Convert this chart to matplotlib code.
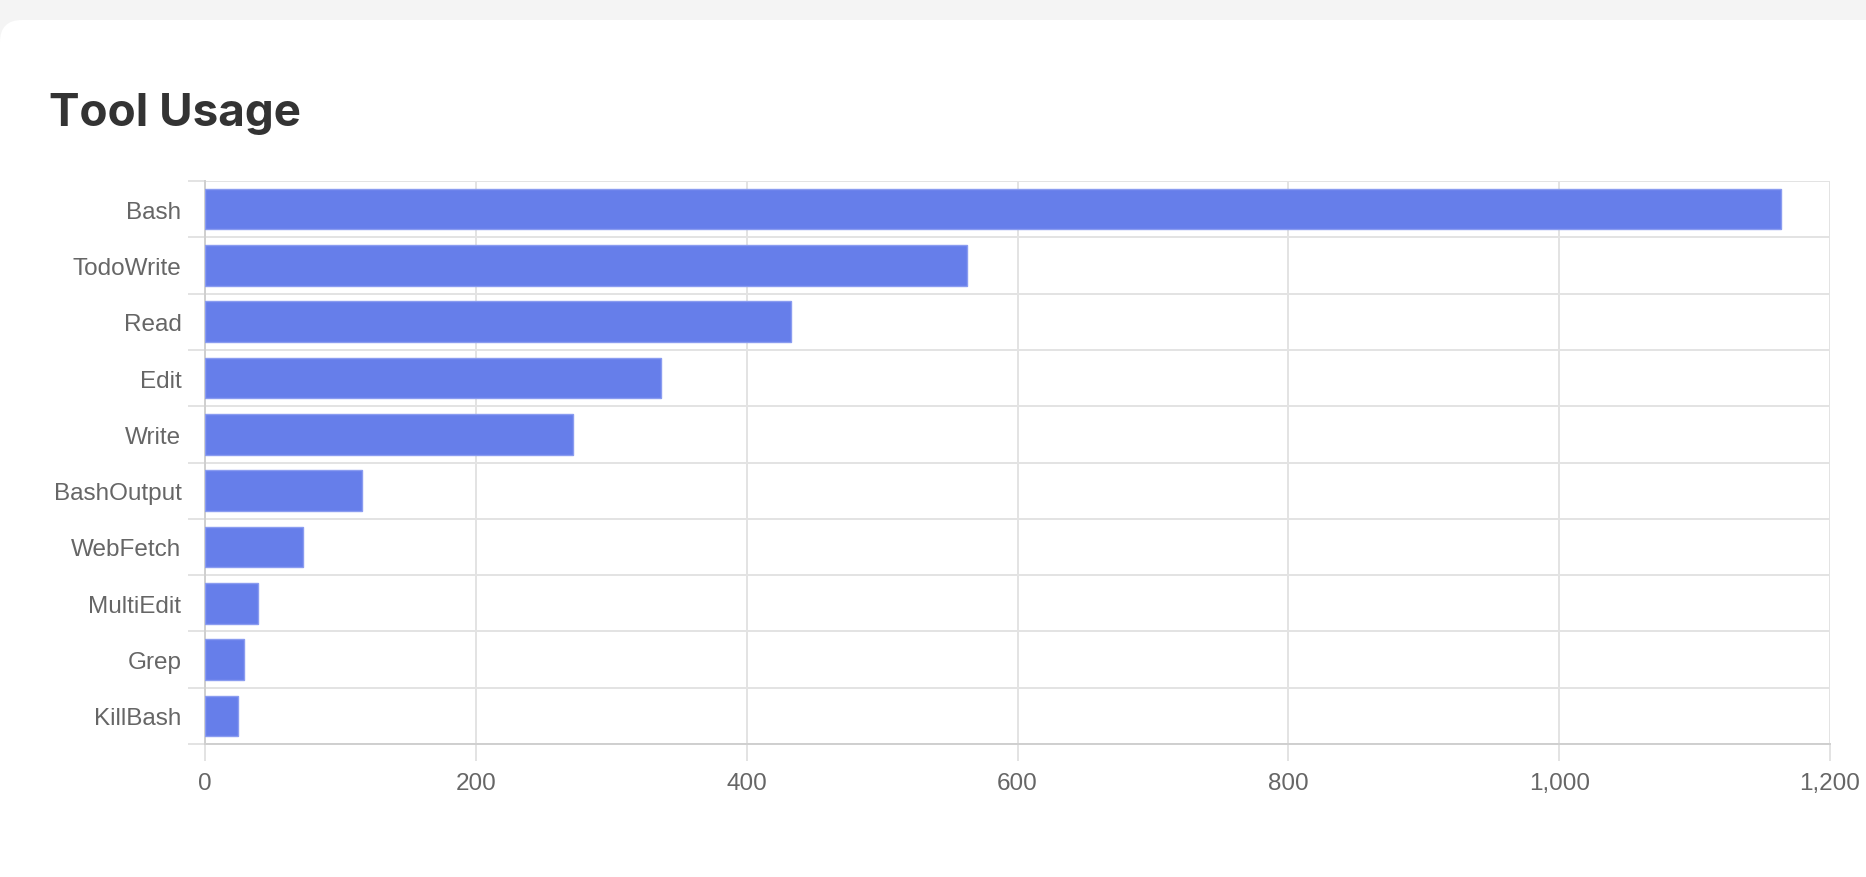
import matplotlib
matplotlib.use("Agg")
import matplotlib.pyplot as plt
from matplotlib.patches import FancyBboxPatch
from matplotlib.ticker import FuncFormatter, MultipleLocator, FixedLocator
from matplotlib.transforms import IdentityTransform

# Data
tools = ["Bash", "TodoWrite", "Read", "Edit", "Write", "BashOutput",
         "WebFetch", "MultiEdit", "Grep", "KillBash"]
counts = [1164, 563, 433, 337, 272, 116, 72, 39, 29, 24]
title = "Tool Usage"

W, H, DPI = 1866, 878, 100
fig = plt.figure(figsize=(W / DPI, H / DPI), dpi=DPI, facecolor="#f4f4f4")

# white card with rounded corner
card = FancyBboxPatch((0, -60), W + 60, H - 21 + 60,
                      boxstyle="round,pad=0,rounding_size=22",
                      transform=IdentityTransform(), facecolor="white",
                      edgecolor="none", zorder=0)
fig.add_artist(card)

fig.text(49 / W, 1 - 126 / H, title, fontsize=33, fontweight="bold",
         family=["Inter", "DejaVu Sans"], color="#333333", va="baseline", ha="left")

left, right, top, bottom = 205, 1830, 182, 745
ax = fig.add_axes([left / W, 1 - bottom / H, (right - left) / W, (bottom - top) / H])
ax.set_facecolor("none")

ypos = list(range(len(tools)))
ax.barh(ypos, counts, height=0.72, color="#667eea", edgecolor="#8a9cf0",
        linewidth=1.0, zorder=3)

ax.set_xlim(0, 1200)
ax.set_ylim(len(tools) - 0.5, -0.5)

grid_c = "#e3e3e3"
axis_c = "#cfcfcf"
lw = 1.4

# x ticks and grid
ax.xaxis.set_major_locator(MultipleLocator(200))
ax.xaxis.set_major_formatter(FuncFormatter(lambda v, p: f"{v:,.0f}"))
ax.grid(axis="x", which="major", color=grid_c, linewidth=lw, zorder=0)
ax.tick_params(axis="x", which="major", length=12, width=lw, color=grid_c,
               labelsize=17.5, labelcolor="#666666", pad=8)

# y ticks (labels at centers, gridlines at band boundaries)
ax.set_yticks(ypos)
ax.set_yticklabels(tools)
ax.yaxis.set_minor_locator(FixedLocator([i - 0.5 for i in range(len(tools) + 1)]))
ax.grid(axis="y", which="minor", color=grid_c, linewidth=lw, zorder=0)
ax.tick_params(axis="y", which="major", length=0, labelsize=17.5,
               labelcolor="#666666", pad=17)
ax.tick_params(axis="y", which="minor", length=12, width=lw, color=grid_c)

for lab in ax.get_xticklabels() + ax.get_yticklabels():
    lab.set_family(["Liberation Sans", "DejaVu Sans"])

for s in ["top", "right"]:
    ax.spines[s].set_visible(False)
ax.spines["left"].set_color(axis_c)
ax.spines["bottom"].set_color(axis_c)
ax.spines["left"].set_linewidth(lw)
ax.spines["bottom"].set_linewidth(lw)
ax.set_axisbelow(True)

fig.savefig("out.png", dpi=DPI, facecolor=fig.get_facecolor())
